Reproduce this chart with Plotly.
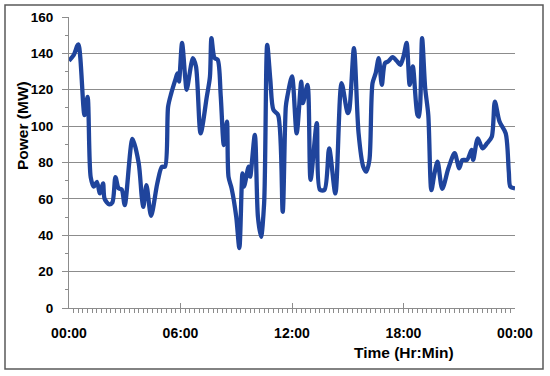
import plotly.graph_objects as go

# Traced time points (minutes after midnight) and power (MW)
minutes = [0, 15, 30, 50, 60, 70, 80, 90, 100, 110, 115, 130, 140, 150, 160, 170, 180,
           205, 225, 235, 240, 250, 265, 285, 300, 310, 320, 330, 345, 350, 355, 365,
           375, 380, 400, 410, 425, 445, 455, 460, 470, 480, 490, 500, 510, 515, 525,
           540, 550, 560, 565, 580, 585, 600, 610, 620, 630, 640, 650, 660, 675, 690,
           700, 705, 720, 735, 750, 755, 770, 780, 800, 810, 825, 840, 860, 880, 900,
           905, 920, 935, 950, 960, 970, 980, 990, 1000, 1010, 1020, 1030, 1045, 1060,
           1070, 1080, 1090, 1100, 1110, 1125, 1130, 1140, 1150, 1160, 1170, 1180, 1190,
           1205, 1225, 1245, 1260, 1270, 1285, 1300, 1305, 1320, 1335, 1350, 1365, 1375,
           1390, 1410, 1420, 1425, 1440]
power_mw = [136, 139, 145, 106, 116, 72, 66.7, 69.4, 63, 68.5, 60, 57, 58, 72, 65.8, 65.2, 56.6,
            93, 79.7, 61, 55.6, 67.6, 50.7, 68.5, 77.7, 77.7, 110.7, 118, 126.4, 129, 124.5, 145.7,
            127, 120, 137.4, 132.8, 96, 116.3, 127, 148.4, 137.4, 136.5, 116.3, 89.6, 102.5, 72.2, 65.8,
            50.1, 33, 74, 66.7, 77.7, 72.2, 95.2, 50.1, 39.1, 57.5, 144.7, 125.5, 108.9, 106.2, 52.9,
            110.7, 116.3, 127.3, 96, 124.5, 112.6, 122.7, 70.4, 101.6, 65, 65, 87.8, 63, 123.6, 107.1,
            108.9, 142.9, 96, 77.7, 75, 81.4, 123.6, 129, 137.4, 122.7, 134.6, 135.5, 137.9, 135.5,
            133.7, 138.3, 145.7, 122.7, 132.8, 106.2, 105.2, 148.4, 120.9, 106.2, 64.8, 74, 80.4,
            65.5, 76.8, 85.1, 76.8, 81.4, 81.4, 86.9, 81.4, 93.3, 87.8, 90.6, 94.2, 113.5,
            102.5, 96, 74.9, 66.7, 65.8]

tick_hours = [0, 6, 12, 18, 24]
tick_labels = ["00:00", "06:00", "12:00", "18:00", "00:00"]

hours = [m / 60 for m in minutes]

font_family = "Liberation Sans, Arial, sans-serif"
grid_col = "#8c8c8c"

fig = go.Figure()
fig.add_trace(go.Scatter(
    x=hours, y=power_mw, mode="lines",
    line=dict(color="#1f449c", width=4.3, shape="spline", smoothing=0.8),
    hoverinfo="skip", showlegend=False,
))

fig.update_layout(
    width=550, height=376,
    margin=dict(l=69, r=35, t=17, b=68, autoexpand=False),
    paper_bgcolor="white", plot_bgcolor="white",
    font=dict(family=font_family, color="black"),
)

fig.update_xaxes(
    range=[0, 24], tickvals=tick_hours, ticktext=tick_labels,
    showgrid=False, zeroline=False, automargin=False,
    showline=True, linecolor=grid_col, linewidth=1,
    ticks="inside", ticklen=5, tickcolor=grid_col, tickwidth=1,
    minor=dict(dtick=0.25, tick0=0, ticks="outside", ticklen=4, tickcolor=grid_col, tickwidth=1, showgrid=False),
    tickfont=dict(size=14, family=font_family, weight="bold"),
    ticklabelstandoff=12,
)
fig.update_yaxes(
    range=[0, 160], dtick=20, tick0=0,
    showgrid=True, gridcolor=grid_col, gridwidth=1, zeroline=False, automargin=False,
    showline=True, linecolor=grid_col, linewidth=1,
    ticks="outside", ticklen=6, tickcolor=grid_col, tickwidth=1,
    minor=dict(dtick=10, ticks="outside", ticklen=3, tickcolor=grid_col, tickwidth=1, showgrid=False),
    tickfont=dict(size=13.5, family=font_family, weight="bold"),
    ticklabelstandoff=6,
)

# Axis titles as annotations (positioned like the original)
fig.add_annotation(
    text="Power (MW)", textangle=-90, showarrow=False,
    xref="paper", yref="paper",
    x=(22 - 69) / 446, y=(308 - 126) / 291,
    xanchor="center", yanchor="middle",
    font=dict(size=15.5, family=font_family, weight="bold", color="black"),
)
fig.add_annotation(
    text="Time (Hr:Min)", showarrow=False,
    xref="x", yref="paper",
    x=18, y=(308 - 353) / 291,
    xanchor="center", yanchor="middle",
    font=dict(size=15.5, family=font_family, weight="bold", color="black"),
)

# Outer chart border
fig.add_shape(
    type="rect", xref="paper", yref="paper",
    x0=(5 - 69) / 446, x1=(543 - 69) / 446,
    y0=(308 - 369) / 291, y1=(308 - 5) / 291,
    line=dict(color="#595959", width=1.5), fillcolor="rgba(0,0,0,0)",
    layer="below",
)

fig.write_html(
    "out.html",
    config={"displayModeBar": False},
    post_script="document.body.style.margin='0';document.body.style.overflow='hidden';",
)
